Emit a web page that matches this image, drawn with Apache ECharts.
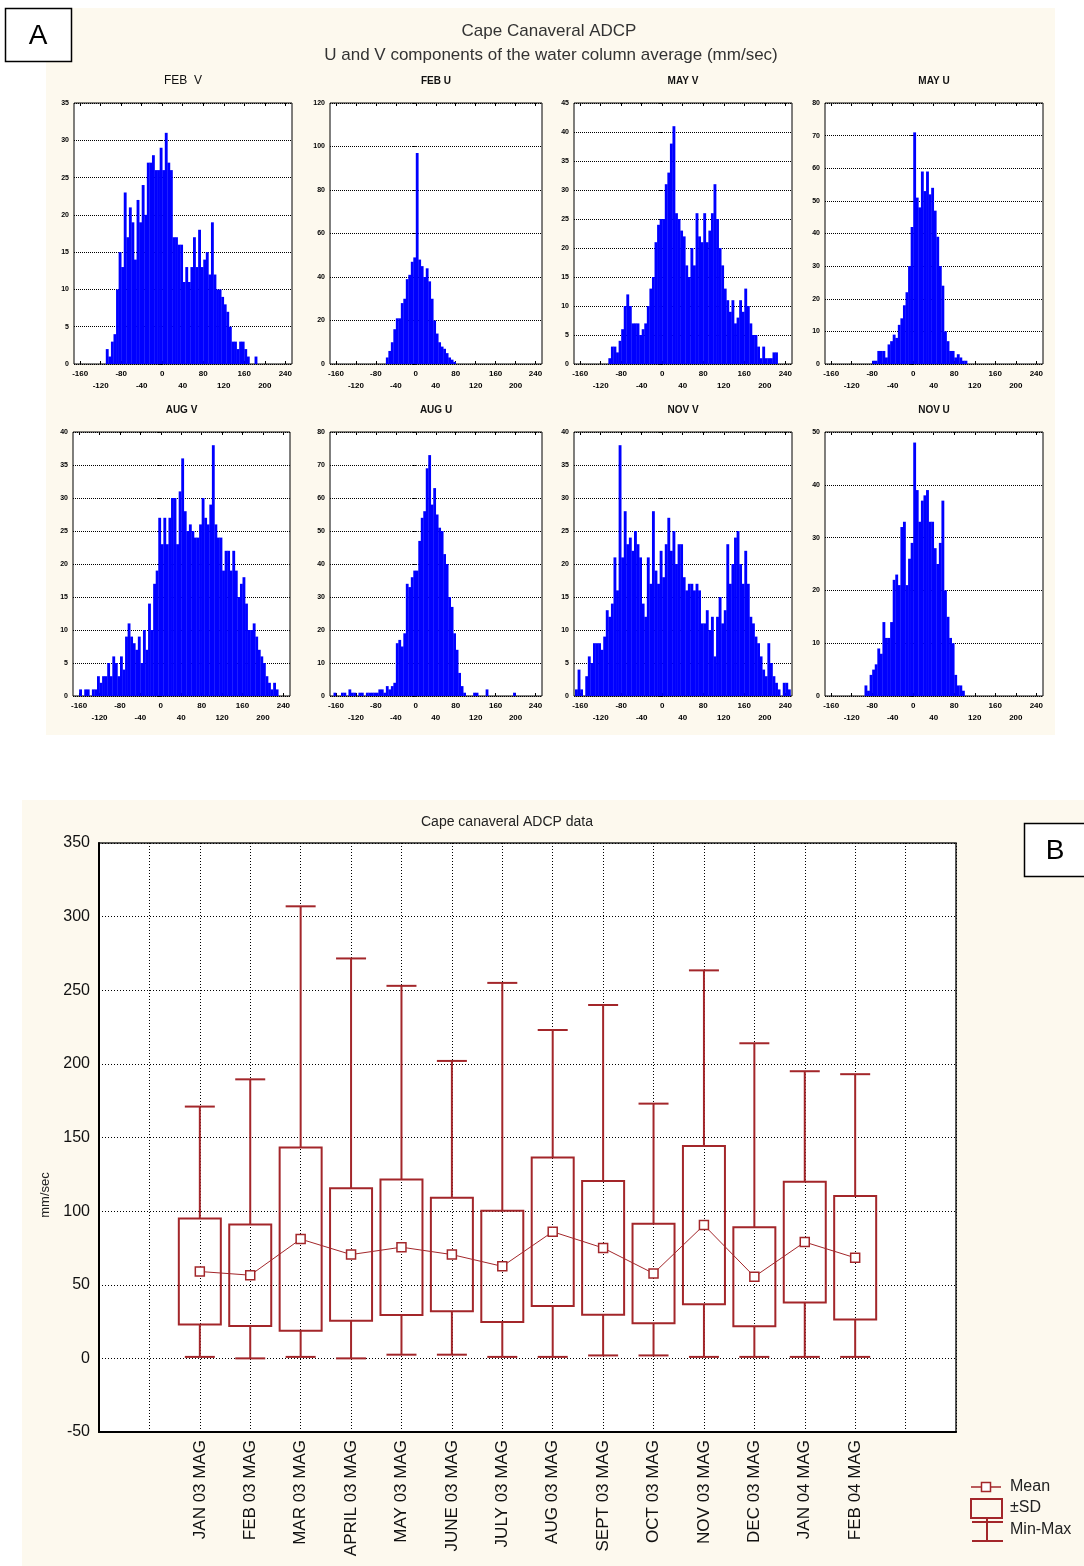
<!DOCTYPE html>
<html><head><meta charset="utf-8">
<script src="https://cdn.jsdelivr.net/npm/echarts/dist/echarts.min.js"></script>
<style>html,body{margin:0;padding:0;background:#fff}#c{width:1084px;height:1566px}</style>
</head><body><div id="c"></div>
<script>
// ---------- Panel A data ----------
const BIN = 5;
const xTicks = [-160,-120,-80,-40,0,40,80,120,160,200,240];
const histTitles = ['FEB  V','FEB U','MAY V','MAY U','AUG V','AUG U','NOV V','NOV U'];
const histStarts = [-110,-60,-105,-80,-160,-165,-170,-95];
const histYMax = [35,120,45,80,40,80,40,50];
const histYStep = [5,20,5,10,5,10,5,10];
const febV = [2,1,3,4,10,15,13,23,17,21,19,14,22,19,24,20,27,27,28,26,26,29,26,31,27,26,17,17,16,16,11,13,11,13,17,13,18,13,14,15,12,19,12,10,10,9,8,7,5,3,3,2,3,3,2,1,0,0,1];
const febU = [3,6,10,16,21,21,28,30,39,41,47,49,97,48,45,40,44,38,30,20,14,10,8,7,5,3,2,1];
const mayV = [1,3,3,2,4,6,10,12,10,7,7,7,5,6,7,10,13,15,21,24,25,25,31,33,38,41,26,25,23,22,17,15,20,17,26,22,21,26,21,23,26,31,25,20,17,13,11,9,11,7,8,11,9,13,10,7,5,5,3,1,3,1,1,1,2,2];
const mayU = [1,1,4,4,4,2,6,7,9,8,12,14,18,22,30,42,71,51,48,59,53,59,52,54,47,39,30,24,10,7,4,4,2,3,2,1,1];
const augV = [1,0,1,1,0,1,1,3,2,3,3,5,3,6,5,3,6,4,9,11,9,8,7,9,5,10,7,14,10,17,19,27,23,27,23,27,30,30,23,31,36,28,25,26,25,24,24,26,30,27,26,29,38,26,24,24,19,22,22,19,22,19,15,17,18,14,10,10,11,9,7,6,5,3,2,1,2,1];
const augU = [1,0,0,1,1,0,2,1,1,0,1,1,0,1,1,1,1,1,2,2,1,3,2,3,4,16,17,15,19,34,33,36,38,38,47,54,56,69,73,58,63,55,51,50,43,40,30,27,19,14,7,3,1,0,0,0,1,1,0,0,0,2,0,0,0,0,0,0,0,0,0,0,1];
const novV = [1,4,1,0,3,6,5,8,8,8,7,9,13,12,14,21,16,38,21,28,23,24,22,25,23,21,14,12,21,17,28,19,17,22,18,23,27,22,25,20,23,23,18,16,17,17,16,17,16,11,11,13,10,12,6,12,15,11,13,23,17,20,24,25,20,17,22,17,12,11,9,8,6,4,3,8,5,3,2,1,0,2,2,1];
const novU = [2,1,4,5,6,9,8,14,11,11,14,22,23,21,32,33,21,26,29,48,39,33,37,38,39,33,33,28,25,29,37,20,15,11,10,4,2,2,1];
const histCounts = [febV,febU,mayV,mayU,augV,augU,novV,novU];

// ---------- Panel B data ----------
const months = ['JAN 03 MAG','FEB 03 MAG','MAR 03 MAG','APRIL 03 MAG','MAY 03 MAG','JUNE 03 MAG','JULY 03 MAG','AUG 03 MAG','SEPT 03 MAG','OCT 03 MAG','NOV 03 MAG','DEC 03 MAG','JAN 04 MAG','FEB 04 MAG'];
const monthPos = [2,3,4,5,6,7,8,9,10,11,12,13,14,15];
const meanVals = [59,56.5,81,70.5,75.5,70.5,62.5,86,75,57.7,90.5,55.5,79,68.3];
const sdVals   = [36,34.5,62.2,45,46,38.5,37.8,50.5,45.4,33.8,53.8,33.6,41,41.9];
const minVals  = [1,0,1,0,2.5,2.5,1,1,2,2,1,1,1,1];
const maxVals  = [171,189.5,307,271.6,253,202,255,223,240,173,263.5,214,195,193];

// ---------- layout ----------
const histGrids = [
  {left:74, top:103, width:218, height:261},
  {left:330, top:103, width:212, height:261},
  {left:574, top:103, width:218, height:261},
  {left:825, top:103, width:218, height:261},
  {left:73, top:432, width:217, height:264},
  {left:330, top:432, width:212, height:264},
  {left:574, top:432, width:218, height:264},
  {left:825, top:432, width:218, height:264}
];
const RED = '#a3262a';
const FONT = 'Liberation Sans, Arial, sans-serif';

const grids = [], xAxes = [], yAxes = [], series = [], graphics = [];

graphics.push({type:'rect', z:-100, shape:{x:46,y:8,width:1009,height:727}, style:{fill:'#fdf9ee'}});
graphics.push({type:'rect', z:-100, shape:{x:22,y:800,width:1062,height:766}, style:{fill:'#fdf9ee'}});
graphics.push({type:'rect', z:50, shape:{x:5.5,y:8.5,width:66,height:53}, style:{fill:'#fff',stroke:'#000',lineWidth:1.5}});
graphics.push({type:'text', z:51, x:38, y:36, style:{text:'A', fontSize:28, fontFamily:FONT, fill:'#000', align:'center', verticalAlign:'middle', textAlign:'center', textVerticalAlign:'middle'}});
graphics.push({type:'rect', z:50, shape:{x:1024.5,y:823.5,width:70,height:53}, style:{fill:'#fff',stroke:'#000',lineWidth:1.5}});
graphics.push({type:'text', z:51, x:1055, y:851, style:{text:'B', fontSize:28, fontFamily:FONT, fill:'#000', align:'center', verticalAlign:'middle', textAlign:'center', textVerticalAlign:'middle'}});
graphics.push({type:'text', x:549, y:31, style:{text:'Cape Canaveral ADCP', fontSize:17, fontFamily:FONT, fill:'#333', align:'center', verticalAlign:'middle', textAlign:'center', textVerticalAlign:'middle'}});
graphics.push({type:'text', x:551, y:55, style:{text:'U and V components of the water column average (mm/sec)', fontSize:17, fontFamily:FONT, fill:'#333', align:'center', verticalAlign:'middle', textAlign:'center', textVerticalAlign:'middle'}});

function histRender(params, api) {
  const x0 = api.value(0), x1 = api.value(1), c = api.value(2);
  if (!c) return null;
  const p0 = api.coord([x0, c]);
  const p1 = api.coord([x1, 0]);
  return {type:'rect', shape:{x:p0[0], y:p0[1], width:p1[0]-p0[0]+0.3, height:p1[1]-p0[1]}, style:{fill:'#0000ff'}};
}

histGrids.forEach((g, i) => {
  grids.push(Object.assign({show:true, backgroundColor:'#fff', borderColor:'#000', borderWidth:1}, g));
  xAxes.push({type:'value', gridIndex:i, min:-172, max:253, position:'bottom',
    axisLine:{show:false, onZero:false}, splitLine:{show:false},
    axisTick:{show:true, inside:true, length:3, customValues:xTicks, lineStyle:{color:'#000'}},
    axisLabel:{customValues:xTicks, fontSize:8, fontWeight:'bold', fontFamily:FONT, color:'#000', margin:4, lineHeight:12,
      formatter: v => (Math.round(v) % 80 === 0 ? String(v) : '\n' + v)}});
  xAxes.push({type:'value', gridIndex:i, min:-172, max:253, position:'top',
    axisLine:{show:false, onZero:false}, splitLine:{show:false}, axisLabel:{show:false},
    axisTick:{show:true, inside:true, length:3, customValues:xTicks, lineStyle:{color:'#000'}}});
  yAxes.push({type:'value', gridIndex:i, min:0, max:histYMax[i], interval:histYStep[i],
    axisLine:{show:false}, axisTick:{show:true, length:3, lineStyle:{color:'#000'}},
    axisLabel:{fontSize:7, fontWeight:'bold', fontFamily:FONT, color:'#000', margin:5},
    splitLine:{show:true, lineStyle:{type:[1,1], color:'#000', width:1}}});
  const start = histStarts[i];
  series.push({type:'custom', xAxisIndex:2*i, yAxisIndex:i, clip:true, silent:true,
    encode:{x:[0,1], y:2},
    data: histCounts[i].map((c, k) => [start + k*BIN, start + (k+1)*BIN, c]),
    renderItem: histRender});
  graphics.push({type:'text', x:g.left + g.width/2, y:g.top - 22,
    style:{text:histTitles[i], fontSize: i === 0 ? 12 : 10, fontWeight: i === 0 ? 'normal' : 'bold', fontFamily:FONT, fill:'#111',
      align:'center', verticalAlign:'middle', textAlign:'center', textVerticalAlign:'middle'}});
});

// ---------- Panel B ----------
const bi = histGrids.length;
grids.push({left:99, top:843, width:857, height:589, show:true, backgroundColor:'#fff', borderColor:'#222', borderWidth:1.5});
xAxes.push({type:'value', gridIndex:bi, min:0, max:17, interval:1,
  axisLine:{show:true, onZero:false, lineStyle:{color:'#000', width:2}}, axisTick:{show:false},
  splitLine:{show:true, lineStyle:{type:[1,2], color:'#000', width:1}},
  axisLabel:{rotate:90, fontSize:17, fontFamily:FONT, color:'#111', margin:8,
    formatter: v => { const k = monthPos.indexOf(v); return k >= 0 ? months[k] : ''; }}});
yAxes.push({type:'value', gridIndex:bi, min:-50, max:350, interval:50,
  axisLine:{show:true, onZero:false, lineStyle:{color:'#000', width:2}}, axisTick:{show:false},
  splitLine:{show:true, lineStyle:{type:[1,2], color:'#000', width:1}},
  axisLabel:{fontSize:16, fontFamily:FONT, color:'#111', margin:9}});

function boxRender(params, api) {
  const x = api.value(0), m = api.value(1), sd = api.value(2), mn = api.value(3), mx = api.value(4);
  const pMax = api.coord([x, mx]), pUp = api.coord([x, m + sd]), pLo = api.coord([x, m - sd]), pMin = api.coord([x, mn]);
  const bw = 21, cw = 15;
  const st = {stroke:RED, lineWidth:2, fill:null};
  return {type:'group', children:[
    {type:'line', shape:{x1:pMax[0], y1:pMax[1], x2:pUp[0], y2:pUp[1]}, style:st},
    {type:'line', shape:{x1:pMax[0]-cw, y1:pMax[1], x2:pMax[0]+cw, y2:pMax[1]}, style:st},
    {type:'rect', shape:{x:pUp[0]-bw, y:pUp[1], width:2*bw, height:pLo[1]-pUp[1]}, style:{stroke:RED, lineWidth:2, fill:'transparent'}},
    {type:'line', shape:{x1:pLo[0], y1:pLo[1], x2:pMin[0], y2:pMin[1]}, style:st},
    {type:'line', shape:{x1:pMin[0]-cw, y1:pMin[1], x2:pMin[0]+cw, y2:pMin[1]}, style:st}
  ]};
}
series.push({type:'custom', xAxisIndex:2*bi, yAxisIndex:bi, silent:true, z:3,
  encode:{x:0, y:[1,3,4]},
  data: monthPos.map((p, k) => [p, meanVals[k], sdVals[k], minVals[k], maxVals[k]]),
  renderItem: boxRender});
series.push({type:'line', xAxisIndex:2*bi, yAxisIndex:bi, silent:true, z:5,
  data: monthPos.map((p, k) => [p, meanVals[k]]),
  symbol:'rect', symbolSize:9, showSymbol:true,
  itemStyle:{color:'#fff', borderColor:RED, borderWidth:1.5},
  lineStyle:{color:RED, width:1}});

graphics.push({type:'text', x:507, y:822, style:{text:'Cape canaveral ADCP data', fontSize:14, fontFamily:FONT, fill:'#222', align:'center', verticalAlign:'middle', textAlign:'center', textVerticalAlign:'middle'}});
graphics.push({type:'text', x:45, y:1195, rotation:Math.PI/2, style:{text:'mm/sec', fontSize:13, fontFamily:FONT, fill:'#222', align:'center', verticalAlign:'middle', textAlign:'center', textVerticalAlign:'middle'}});
// legend
graphics.push({type:'line', shape:{x1:971,y1:1487,x2:1001,y2:1487}, style:{stroke:RED, lineWidth:1.5}});
graphics.push({type:'rect', shape:{x:981.5,y:1482.5,width:9,height:9}, style:{stroke:RED, lineWidth:1.5, fill:'#fff'}});
graphics.push({type:'rect', shape:{x:971,y:1499,width:31,height:19}, style:{stroke:RED, lineWidth:2, fill:'transparent'}});
graphics.push({type:'line', shape:{x1:987,y1:1518,x2:987,y2:1541}, style:{stroke:RED, lineWidth:2}});
graphics.push({type:'line', shape:{x1:972,y1:1522,x2:1003,y2:1522}, style:{stroke:RED, lineWidth:2}});
graphics.push({type:'line', shape:{x1:972,y1:1541,x2:1003,y2:1541}, style:{stroke:RED, lineWidth:2}});
[['Mean',1487],['\u00b1SD',1508],['Min-Max',1530]].forEach(([t, y]) => {
  graphics.push({type:'text', x:1010, y:y, style:{text:t, fontSize:16, fontFamily:FONT, fill:'#222', align:'left', verticalAlign:'middle', textAlign:'left', textVerticalAlign:'middle'}});
});

const chart = echarts.init(document.getElementById('c'), null, {renderer:'canvas'});
chart.setOption({animation:false, backgroundColor:'#fff', grid:grids, xAxis:xAxes, yAxis:yAxes, series:series, graphic:graphics});
</script></body></html>
